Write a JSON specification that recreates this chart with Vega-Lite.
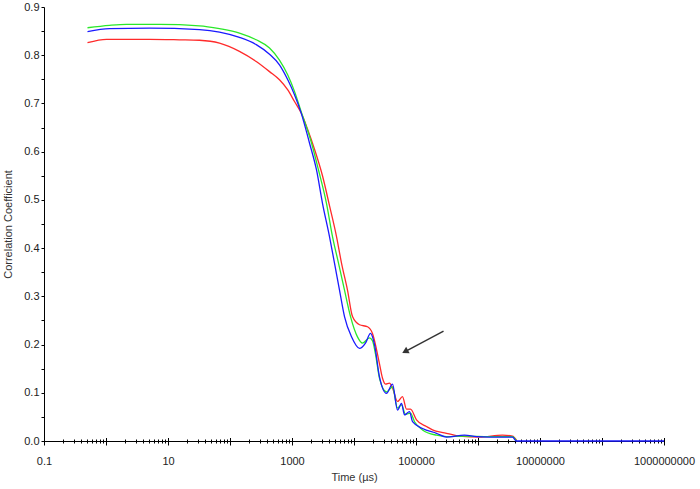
{
  "$schema": "https://vega.github.io/schema/vega-lite/v6.json",
  "width": 620,
  "height": 434,
  "autosize": {"type": "none"},
  "padding": {"left": 44, "top": 7, "right": 36, "bottom": 48},
  "background": "white",
  "config": {"view": {"stroke": null}, "font": "Liberation Sans"},
  "datasets": {
    "curves": [
      {"series": "s1", "t": 0.503, "r": 0.826},
      {"series": "s1", "t": 1.02, "r": 0.833},
      {"series": "s1", "t": 5.03, "r": 0.833},
      {"series": "s1", "t": 15.3, "r": 0.832},
      {"series": "s1", "t": 32.2, "r": 0.831},
      {"series": "s1", "t": 67.7, "r": 0.825},
      {"series": "s1", "t": 142, "r": 0.808},
      {"series": "s1", "t": 265, "r": 0.787},
      {"series": "s1", "t": 434, "r": 0.766},
      {"series": "s1", "t": 628, "r": 0.749},
      {"series": "s1", "t": 855, "r": 0.728},
      {"series": "s1", "t": 1097, "r": 0.704},
      {"series": "s1", "t": 1407, "r": 0.68},
      {"series": "s1", "t": 1778, "r": 0.647},
      {"series": "s1", "t": 2306, "r": 0.605},
      {"series": "s1", "t": 3103, "r": 0.55},
      {"series": "s1", "t": 4025, "r": 0.488},
      {"series": "s1", "t": 5222, "r": 0.424},
      {"series": "s1", "t": 6286, "r": 0.369},
      {"series": "s1", "t": 7852, "r": 0.313},
      {"series": "s1", "t": 9462, "r": 0.258},
      {"series": "s1", "t": 12270, "r": 0.241},
      {"series": "s1", "t": 16520, "r": 0.237},
      {"series": "s1", "t": 19870, "r": 0.223},
      {"series": "s1", "t": 25770, "r": 0.16},
      {"series": "s1", "t": 28840, "r": 0.13},
      {"series": "s1", "t": 32210, "r": 0.118},
      {"series": "s1", "t": 37410, "r": 0.12},
      {"series": "s1", "t": 41780, "r": 0.11},
      {"series": "s1", "t": 50350, "r": 0.082},
      {"series": "s1", "t": 60530, "r": 0.092},
      {"series": "s1", "t": 70280, "r": 0.066},
      {"series": "s1", "t": 81470, "r": 0.066},
      {"series": "s1", "t": 101900, "r": 0.044},
      {"series": "s1", "t": 147600, "r": 0.03},
      {"series": "s1", "t": 184500, "r": 0.023},
      {"series": "s1", "t": 288400, "r": 0.017},
      {"series": "s1", "t": 503500, "r": 0.01},
      {"series": "s1", "t": 1057000, "r": 0.008},
      {"series": "s1", "t": 2480000, "r": 0.012},
      {"series": "s1", "t": 3600000, "r": 0.01},
      {"series": "s1", "t": 4180000, "r": 0.002},

      {"series": "s2", "t": 0.503, "r": 0.857},
      {"series": "s2", "t": 1.14, "r": 0.862},
      {"series": "s2", "t": 2.14, "r": 0.864},
      {"series": "s2", "t": 7.29, "r": 0.864},
      {"series": "s2", "t": 32.2, "r": 0.861},
      {"series": "s2", "t": 67.7, "r": 0.855},
      {"series": "s2", "t": 142, "r": 0.846},
      {"series": "s2", "t": 265, "r": 0.832},
      {"series": "s2", "t": 434, "r": 0.815},
      {"series": "s2", "t": 628, "r": 0.79},
      {"series": "s2", "t": 855, "r": 0.759},
      {"series": "s2", "t": 1097, "r": 0.725},
      {"series": "s2", "t": 1407, "r": 0.683},
      {"series": "s2", "t": 2064, "r": 0.618},
      {"series": "s2", "t": 2676, "r": 0.562},
      {"series": "s2", "t": 3598, "r": 0.493},
      {"series": "s2", "t": 4500, "r": 0.424},
      {"series": "s2", "t": 5623, "r": 0.369},
      {"series": "s2", "t": 7028, "r": 0.313},
      {"series": "s2", "t": 8790, "r": 0.258},
      {"series": "s2", "t": 11380, "r": 0.216},
      {"series": "s2", "t": 13710, "r": 0.203},
      {"series": "s2", "t": 17780, "r": 0.214},
      {"series": "s2", "t": 19870, "r": 0.208},
      {"series": "s2", "t": 22230, "r": 0.18},
      {"series": "s2", "t": 25770, "r": 0.13},
      {"series": "s2", "t": 33420, "r": 0.102},
      {"series": "s2", "t": 41780, "r": 0.112},
      {"series": "s2", "t": 50350, "r": 0.068},
      {"series": "s2", "t": 58400, "r": 0.075},
      {"series": "s2", "t": 67740, "r": 0.055},
      {"series": "s2", "t": 81470, "r": 0.058},
      {"series": "s2", "t": 94690, "r": 0.04},
      {"series": "s2", "t": 127400, "r": 0.023},
      {"series": "s2", "t": 214200, "r": 0.012},
      {"series": "s2", "t": 310500, "r": 0.009},
      {"series": "s2", "t": 605300, "r": 0.01},
      {"series": "s2", "t": 1530000, "r": 0.009},
      {"series": "s2", "t": 3600000, "r": 0.009},
      {"series": "s2", "t": 4180000, "r": 0.0},

      {"series": "s3", "t": 0.503, "r": 0.849},
      {"series": "s3", "t": 1.14, "r": 0.855},
      {"series": "s3", "t": 5.03, "r": 0.856},
      {"series": "s3", "t": 32.2, "r": 0.853},
      {"series": "s3", "t": 67.7, "r": 0.848},
      {"series": "s3", "t": 142, "r": 0.837},
      {"series": "s3", "t": 265, "r": 0.822},
      {"series": "s3", "t": 434, "r": 0.802},
      {"series": "s3", "t": 628, "r": 0.78},
      {"series": "s3", "t": 855, "r": 0.749},
      {"series": "s3", "t": 1097, "r": 0.718},
      {"series": "s3", "t": 1407, "r": 0.68},
      {"series": "s3", "t": 1915, "r": 0.618},
      {"series": "s3", "t": 2485, "r": 0.562},
      {"series": "s3", "t": 3103, "r": 0.493},
      {"series": "s3", "t": 4025, "r": 0.424},
      {"series": "s3", "t": 4847, "r": 0.369},
      {"series": "s3", "t": 5838, "r": 0.313},
      {"series": "s3", "t": 7028, "r": 0.258},
      {"series": "s3", "t": 9120, "r": 0.216},
      {"series": "s3", "t": 12270, "r": 0.192},
      {"series": "s3", "t": 15310, "r": 0.203},
      {"series": "s3", "t": 18450, "r": 0.223},
      {"series": "s3", "t": 21420, "r": 0.2},
      {"series": "s3", "t": 25770, "r": 0.133},
      {"series": "s3", "t": 33420, "r": 0.099},
      {"series": "s3", "t": 41780, "r": 0.118},
      {"series": "s3", "t": 50350, "r": 0.064},
      {"series": "s3", "t": 58400, "r": 0.078},
      {"series": "s3", "t": 65290, "r": 0.054},
      {"series": "s3", "t": 78520, "r": 0.061},
      {"series": "s3", "t": 87900, "r": 0.04},
      {"series": "s3", "t": 127400, "r": 0.026},
      {"series": "s3", "t": 214200, "r": 0.016},
      {"series": "s3", "t": 310500, "r": 0.008},
      {"series": "s3", "t": 605300, "r": 0.012},
      {"series": "s3", "t": 946000, "r": 0.009},
      {"series": "s3", "t": 1530000, "r": 0.008},
      {"series": "s3", "t": 3600000, "r": 0.008},
      {"series": "s3", "t": 4180000, "r": 0.0},
      {"series": "s3", "t": 1000000000, "r": 0.0}
    ],
    "arrow": [{"t": 278000, "r": 0.228, "t2": 69000, "r2": 0.1865}]
  },
  "resolve": {"axis": {"x": "independent", "y": "independent"}},
  "layer": [
    {
      "data": {"name": "curves"},
      "mark": {"type": "line", "strokeWidth": 1.3, "interpolate": "monotone"},
      "encoding": {
        "x": {
          "field": "t", "type": "quantitative",
          "scale": {"type": "log", "domain": [0.1, 1000000000], "nice": false},
          "axis": {
            "orient": "bottom",
            "title": "Time (µs)",
            "values": [0.1, 1, 10, 100, 1000, 10000, 100000, 1000000, 10000000, 100000000, 1000000000],
            "labelExpr": "datum.value < 1 ? '0.1' : (round(log(datum.value)/LN10) % 2 == 1 ? format(datum.value, 'd') : '')",
            "grid": false,
            "domainColor": "#000", "domainWidth": 1,
            "tickColor": "#000", "tickSize": 4, "tickWidth": 1,
            "labelFont": "Liberation Sans", "labelFontSize": 11, "labelColor": "#222",
            "labelPadding": 10, "labelFlush": false, "labelOverlap": false,
            "titleFont": "Liberation Sans", "titleFontSize": 11, "titleFontWeight": "normal",
            "titleColor": "#333", "titlePadding": 5
          }
        },
        "y": {
          "field": "r", "type": "quantitative",
          "scale": {"domain": [0, 0.9], "nice": false, "zero": false},
          "axis": {
            "title": "Correlation Coefficient",
            "values": [0, 0.05, 0.1, 0.15, 0.2, 0.25, 0.3, 0.35, 0.4, 0.45, 0.5, 0.55, 0.6, 0.65, 0.7, 0.75, 0.8, 0.85, 0.9],
            "labelExpr": "abs((datum.value*20) % 2) < 0.01 ? format(datum.value, '.1f') : ''",
            "grid": false,
            "domainColor": "#000", "domainWidth": 1,
            "tickColor": "#000", "tickSize": 3, "tickWidth": 1,
            "labelFont": "Liberation Sans", "labelFontSize": 11, "labelColor": "#222",
            "labelPadding": 2, "labelOverlap": false, "labelFlush": false,
            "titleFont": "Liberation Sans", "titleFontSize": 11, "titleFontWeight": "normal",
            "titleColor": "#333", "titlePadding": 10
          }
        },
        "color": {
          "field": "series", "type": "nominal",
          "scale": {"domain": ["s1", "s2", "s3"], "range": ["#ff2a2a", "#2ae82a", "#1a1aff"]},
          "legend": null
        }
      }
    },
    {
      "data": {"name": "arrow"},
      "mark": {"type": "rule", "color": "#333", "strokeWidth": 1.5},
      "encoding": {
        "x": {
          "field": "t", "type": "quantitative",
          "axis": {
            "orient": "bottom", "title": null, "labels": false, "domain": false, "grid": false,
            "values": [0.1, 1, 10, 100, 1000, 10000, 100000, 1000000, 10000000, 100000000, 1000000000],
            "tickSize": 7, "offset": -3.5, "tickColor": "#000", "tickWidth": 1
          }
        },
        "x2": {"field": "t2"},
        "y": {"field": "r", "type": "quantitative", "axis": null},
        "y2": {"field": "r2"}
      }
    },
    {
      "data": {"name": "arrow"},
      "mark": {"type": "point", "shape": "triangle", "filled": true, "color": "#333", "size": 55, "angle": 242, "opacity": 1},
      "encoding": {
        "x": {
          "field": "t2", "type": "quantitative",
          "axis": {
            "orient": "bottom", "title": null, "labels": false, "domain": false, "grid": false,
            "values": [0.2, 0.3, 0.4, 0.5, 0.6, 0.7, 0.8, 0.9, 2, 3, 4, 5, 6, 7, 8, 9, 20, 30, 40, 50, 60, 70, 80, 90, 200, 300, 400, 500, 600, 700, 800, 900, 2000, 3000, 4000, 5000, 6000, 7000, 8000, 9000, 20000, 30000, 40000, 50000, 60000, 70000, 80000, 90000, 200000, 300000, 400000, 500000, 600000, 700000, 800000, 900000, 2000000, 3000000, 4000000, 5000000, 6000000, 7000000, 8000000, 9000000, 20000000, 30000000, 40000000, 50000000, 60000000, 70000000, 80000000, 90000000, 200000000, 300000000, 400000000, 500000000, 600000000, 700000000, 800000000, 900000000],
            "tickSize": 4, "offset": -2, "tickColor": "#000", "tickWidth": 1
          }
        },
        "y": {"field": "r2", "type": "quantitative", "axis": null}
      }
    }
  ]
}
